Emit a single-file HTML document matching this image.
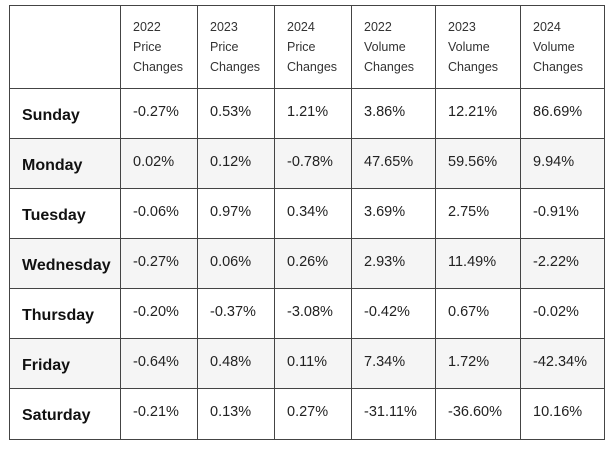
<!DOCTYPE html>
<html><head><meta charset="utf-8"><style>
body{margin:0;background:#fff;width:610px;height:450px;overflow:hidden;font-family:"Liberation Sans",sans-serif;color:#222}
#t{position:absolute;left:0;top:0}
.c{position:absolute;box-sizing:border-box;border:1px solid #444;padding-left:12px;display:flex;align-items:center}
.h{font-size:12.5px;line-height:20px;color:#333;align-items:flex-start;padding-top:11px}
.v{font-size:14.5px;padding-bottom:4px}
.l{font-size:16px;font-weight:bold;color:#111;padding-left:12px;padding-top:4px}
</style></head><body>
<div id="t"></div>
<script>
const xs=[9,120,197,274,351,435,520,604];
const ys=[5,88,138,188,238,288,338,388,439];
const headers=["2022<br>Price<br>Changes","2023<br>Price<br>Changes","2024<br>Price<br>Changes","2022<br>Volume<br>Changes","2023<br>Volume<br>Changes","2024<br>Volume<br>Changes"];
const days=["Sunday","Monday","Tuesday","Wednesday","Thursday","Friday","Saturday"];
const values=[
["-0.27%","0.53%","1.21%","3.86%","12.21%","86.69%"],
["0.02%","0.12%","-0.78%","47.65%","59.56%","9.94%"],
["-0.06%","0.97%","0.34%","3.69%","2.75%","-0.91%"],
["-0.27%","0.06%","0.26%","2.93%","11.49%","-2.22%"],
["-0.20%","-0.37%","-3.08%","-0.42%","0.67%","-0.02%"],
["-0.64%","0.48%","0.11%","7.34%","1.72%","-42.34%"],
["-0.21%","0.13%","0.27%","-31.11%","-36.60%","10.16%"]];
const t=document.getElementById('t');
function cell(r,c,html,cls,bg){
  const d=document.createElement('div');
  d.className='c '+cls;
  d.style.left=xs[c]+'px';d.style.top=ys[r]+'px';
  d.style.width=(xs[c+1]-xs[c]+1)+'px';d.style.height=(ys[r+1]-ys[r]+1)+'px';
  d.style.background=bg;
  d.innerHTML=html;
  t.appendChild(d);return d;
}
const hc=cell(0,0,'','h','#fff');


headers.forEach((h,i)=>{
  const d=cell(0,i+1,h,'h','#fff');
  
  
});
days.forEach((day,r)=>{
  const bg=r%2===1?'#f5f5f5':'#fff';
  const d=cell(r+1,0,day,'l',bg);
  
  
  values[r].forEach((v,c)=>{
    const e=cell(r+1,c+1,v,'v',bg);
    
    
  });
});
</script>
</body></html>
